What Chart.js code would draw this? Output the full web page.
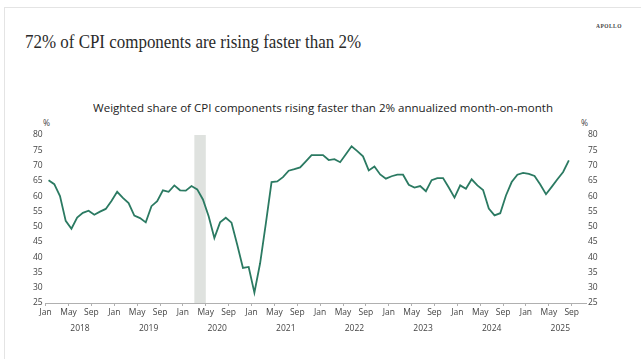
<!DOCTYPE html>
<html><head><meta charset="utf-8">
<script src="https://cdn.jsdelivr.net/npm/chart.js@4.4.1/dist/chart.umd.min.js"></script>
<style>
html,body{margin:0;padding:0;background:#fff;overflow:hidden;}
body{width:641px;height:359px;position:relative;}
#frame{position:absolute;left:4px;top:7px;width:700px;height:400px;border-left:1px solid #e4e4e4;border-top:1px solid #e4e4e4;}
.txt{position:absolute;white-space:nowrap;transform-origin:left top;}
#title{left:25px;top:33px;font-family:"Liberation Serif",serif;font-size:18px;line-height:18px;color:#2a2a2a;}
#apollo{left:596px;top:22px;font-family:"Liberation Serif",serif;font-weight:bold;font-size:6.5px;letter-spacing:0.6px;color:#444;}
#sub{left:93px;top:100px;font-family:"Open Sans",sans-serif;font-size:11px;line-height:15px;color:#222;}
.pct{top:117px;font-family:"Open Sans",sans-serif;font-size:8.5px;color:#444;}
canvas{position:absolute;left:0;top:0;}
</style></head>
<body>
<div id="frame"></div>
<div id="title" class="txt" data-w="336">72% of CPI components are rising faster than 2%</div>
<div id="apollo" class="txt" data-w="26">APOLLO</div>
<div id="sub" class="txt" data-w="460">Weighted share of CPI components rising faster than 2% annualized month-on-month</div>
<div class="txt pct" style="left:43px">%</div>
<div class="txt pct" style="left:581px">%</div>
<canvas id="c" width="641" height="359"></canvas>
<script>
// Monthly values, Jan 2018 .. Aug 2025 (%)
const values = [
  65.2, 63.9, 60.0, 51.9, 49.3, 53.0, 54.5, 55.2, 53.9, 54.9, 55.8, 58.4,
  61.4, 59.4, 57.7, 53.6, 52.8, 51.4, 56.7, 58.3, 61.9, 61.4, 63.5, 61.9,
  61.8, 63.3, 62.2, 58.9, 53.4, 46.3, 51.4, 52.9, 51.3, 44.1, 36.5, 36.8,
  28.4, 38.0, 51.0, 64.6, 64.8, 66.2, 68.3, 68.8, 69.4, 71.4, 73.4, 73.4,
  73.4, 71.8, 72.1, 71.1, 73.7, 76.3, 74.7, 73.0, 68.4, 69.7, 67.1, 65.7,
  66.5, 67.0, 67.0, 63.7, 62.8, 63.3, 61.6, 65.2, 65.9, 65.9, 62.8, 59.5,
  63.5, 62.4, 65.5, 63.5, 62.0, 55.9, 53.7, 54.4, 60.2, 64.6, 67.0, 67.6,
  67.3, 66.6, 63.8, 60.6, 63.0, 65.5, 67.9, 71.7
];
const monthTickLabels = ['Jan', 'May', 'Sep'];
const yearLabels = ['2018', '2019', '2020', '2021', '2022', '2023', '2024', '2025'];
const yTicks = [25, 30, 35, 40, 45, 50, 55, 60, 65, 70, 75, 80];
const recession = [26, 28]; // month indices from Jan 2018: Mar 2020 to end of Apr 2020

// fit text widths
document.querySelectorAll('.txt[data-w]').forEach(el => {
  const w = el.getBoundingClientRect().width;
  el.style.transform = 'scaleX(' + (parseFloat(el.dataset.w) / w) + ')';
});

const bandPlugin = {
  id: 'band',
  beforeDatasetsDraw(chart) {
    const {ctx, scales: {x, y}} = chart;
    const x0 = x.getPixelForValue(recession[0]), x1 = x.getPixelForValue(recession[1]);
    const yt = y.getPixelForValue(yTicks[yTicks.length - 1]), yb = y.getPixelForValue(yTicks[0]);
    ctx.save();
    ctx.fillStyle = '#dfe2df';
    ctx.fillRect(x0, yt, x1 - x0, yb - yt);
    ctx.restore();
  }
};

const tickFont = {family: 'Open Sans', size: 8.5};
const tickColor = '#444';
const yScale = (pos, w) => ({
  position: pos, min: yTicks[0], max: yTicks[yTicks.length - 1],
  afterBuildTicks: s => { s.ticks = yTicks.map(v => ({value: v})); },
  ticks: {font: tickFont, color: tickColor, padding: pos === 'left' ? 3 : 2},
  grid: {display: false, drawTicks: false}, border: {display: false},
  afterFit: s => { s.width = w; }
});

new Chart(document.getElementById('c'), {
  type: 'line',
  data: {datasets: [{
    data: values.map((v, i) => ({x: i + 0.5, y: v})),
    borderColor: '#2b7a62', borderWidth: 1.8, pointRadius: 0, tension: 0,
    xAxisID: 'x', yAxisID: 'y'
  }]},
  plugins: [bandPlugin],
  options: {
    responsive: false, animation: false,
    layout: {padding: {left: 0, right: 0, top: 135, bottom: 23}},
    plugins: {legend: {display: false}, tooltip: {enabled: false}},
    scales: {
      x: {
        type: 'linear', position: 'bottom', min: 0, max: 94.5,
        afterBuildTicks: s => { s.ticks = []; for (let v = 0; v < values.length + 1; v += 4) s.ticks.push({value: v}); },
        ticks: {callback: v => monthTickLabels[(v / 4) % 3], font: tickFont, color: tickColor, padding: 1, maxRotation: 0, autoSkip: false},
        grid: {drawOnChartArea: false, drawTicks: true, tickLength: 3, color: '#b0b0b0'},
        border: {display: true, color: '#b0b0b0'},
        afterFit: s => { s.height = 19; }
      },
      x2: {
        type: 'linear', position: 'bottom', min: 0, max: 94.5,
        afterBuildTicks: s => { s.ticks = yearLabels.map((y, i) => ({value: i * 12 + 6})); },
        ticks: {callback: v => yearLabels[(v - 6) / 12], font: tickFont, color: tickColor, padding: 1, maxRotation: 0, autoSkip: false},
        grid: {display: false, drawTicks: false}, border: {display: false},
        afterFit: s => { s.height = 14; }
      },
      y: yScale('left', 45.7),
      y2: yScale('right', 55)
    }
  }
});
</script>
</body></html>
